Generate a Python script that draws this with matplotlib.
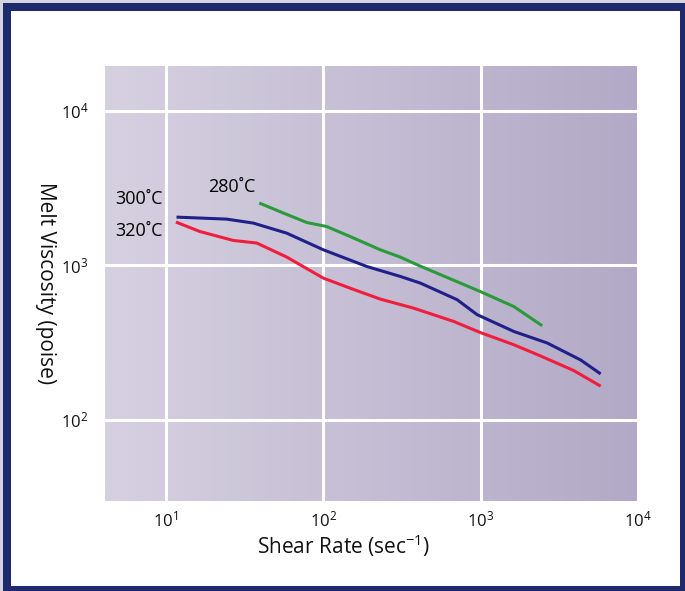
import numpy as np
import matplotlib
matplotlib.use("Agg")
import matplotlib.pyplot as plt
from matplotlib.patches import Rectangle
from matplotlib.colors import LinearSegmentedColormap

plt.rcParams['font.family'] = ['Open Sans', 'DejaVu Sans']
plt.rcParams['mathtext.default'] = 'regular'

# Melt viscosity (poise) versus shear rate (1/s) at three melt temperatures
rate_280 = [39.2, 55.7, 78.5, 105, 148, 230, 308, 394, 993, 1620, 2455]
visc_280 = [2530, 2180, 1892, 1782, 1535, 1260, 1130, 1008, 676, 541, 406]

rate_300 = [11.7, 24.3, 35.9, 58.6, 100, 189, 308, 413, 707, 948, 1620, 2640, 4300, 5770]
visc_300 = [2050, 1990, 1876, 1614, 1260, 982, 847, 767, 599, 479, 373, 314, 244, 198]

rate_320 = [11.6, 16.4, 26.8, 37.8, 58.6, 100, 148, 230, 374, 673, 993, 1620, 2390, 3900, 5770]
visc_320 = [1905, 1656, 1448, 1393, 1130, 826, 711, 604, 528, 433, 367, 306, 259, 208, 165]

x_ticks = [10, 100, 1000, 10000]
x_tick_labels = ['$10^{1}$', '$10^{2}$', '$10^{3}$', '$10^{4}$']
y_ticks = [100, 1000, 10000]
y_tick_labels = ['$10^{2}$', '$10^{3}$', '$10^{4}$']

W, H = 685, 591
fig = plt.figure(figsize=(W / 100, H / 100), dpi=100, facecolor='#d4d4de')

# navy frame around the white panel
fig.patches.append(Rectangle((3 / W, 0), 1 - 3 / W, 1 - 3 / H, transform=fig.transFigure,
                             facecolor='#1f2a6e', edgecolor='none', zorder=-10))
fig.patches.append(Rectangle((11 / W, 5 / H), (680 - 11) / W, (586 - 11) / H,
                             transform=fig.transFigure, facecolor='white',
                             edgecolor='none', zorder=-9))

left, right, top, bottom = 105, 640, 66, 501
ax = fig.add_axes([left / W, 1 - bottom / H, (right - left) / W, (bottom - top) / H])
ax.set_xscale('log')
ax.set_yscale('log')
ax.set_xlim(10 ** 0.614, 10 ** 4.011)
ax.set_ylim(10 ** 1.474, 10 ** 4.29)

# horizontal lavender gradient background
cmap = LinearSegmentedColormap.from_list('lav', ['#d6d1e1', '#b2a9c6'])
grad = np.linspace(0, 1, 256).reshape(1, -1)
ax.imshow(grad, cmap=cmap, aspect='auto', extent=[0, 1, 0, 1],
          transform=ax.transAxes, zorder=0)

ax.grid(True, which='major', color='white', linewidth=2.2, zorder=1)
ax.grid(False, which='minor')
ax.set_axisbelow(False)

ax.plot(rate_280, visc_280, color='#2a9a3a', lw=2.2, zorder=3, solid_capstyle='butt')
ax.plot(rate_300, visc_300, color='#20208a', lw=2.2, zorder=3, solid_capstyle='butt')
ax.plot(rate_320, visc_320, color='#f01e3c', lw=2.2, zorder=3, solid_capstyle='butt')

ax.set_xticks(x_ticks)
ax.set_xticklabels(x_tick_labels)
ax.set_yticks(y_ticks)
ax.set_yticklabels(y_tick_labels)
ax.xaxis.set_minor_locator(matplotlib.ticker.NullLocator())
ax.yaxis.set_minor_locator(matplotlib.ticker.NullLocator())
ax.tick_params(axis='both', length=0, labelsize=12, colors='#111111')
ax.tick_params(axis='x', pad=7)
ax.tick_params(axis='y', pad=12)
for s in ax.spines.values():
    s.set_visible(False)

ax.set_xlabel('Shear Rate (sec$^{-1}$)', fontsize=15, color='#111111')
ax.xaxis.set_label_coords(0.447, -0.072)
ax.set_ylabel('Melt Viscosity (poise)', fontsize=15, rotation=270,
              va='center', color='#111111')
ax.yaxis.set_label_coords(-0.112, 0.5)

ax.text(9.5, 2700, '300˚C', fontsize=13, ha='right', va='center', zorder=4)
ax.text(9.5, 1670, '320˚C', fontsize=13, ha='right', va='center', zorder=4)
ax.text(37, 3200, '280˚C', fontsize=13, ha='right', va='center', zorder=4)

fig.savefig('out.png', dpi=100, facecolor=fig.get_facecolor())
